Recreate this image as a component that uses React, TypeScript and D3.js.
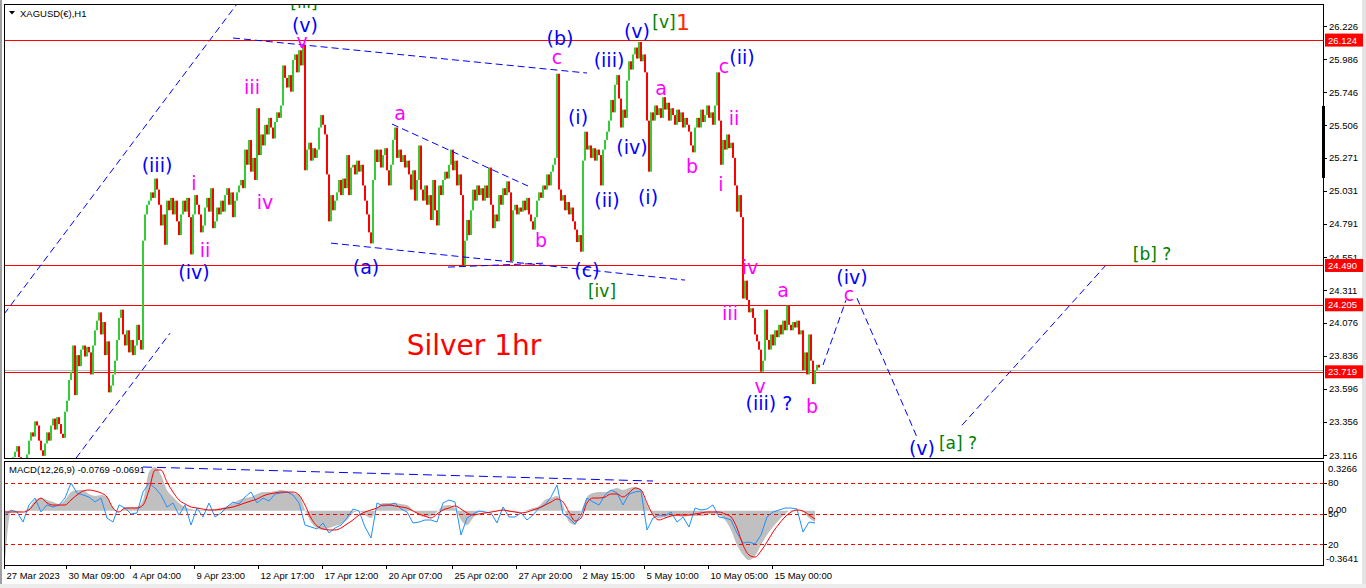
import React from 'react';
import * as d3 from 'd3';

// hourly closes, one entry per 2px bar slot
const closes = [
  23.01, 23.02, 23.04, 23.07, 23.10, 23.14, 23.18, 23.10, 23.04, 23.02,
  23.05, 23.12, 23.22, 23.28, 23.25, 23.36, 23.33, 23.22, 23.15, 23.11,
  23.20, 23.28, 23.22, 23.33, 23.38, 23.30, 23.39, 23.34, 23.27, 23.24,
  23.43, 23.51, 23.66, 23.72, 23.91, 23.55, 23.84, 23.76, 23.88, 23.91,
  23.83, 23.90, 23.86, 23.70, 23.91, 24.02, 24.09, 24.15, 23.99, 24.08,
  23.84, 23.94, 23.57, 23.62, 23.70, 23.80, 23.95, 24.11, 24.17, 23.99,
  23.91, 24.02, 23.86, 23.95, 23.84, 23.91, 24.06, 23.95, 23.88, 24.67,
  24.86, 24.93, 24.96, 25.02, 24.98, 25.12, 25.04, 24.93, 24.78, 24.86,
  24.64, 24.96, 24.89, 24.98, 24.86, 24.96, 24.81, 24.71, 24.86, 24.96,
  24.88, 24.98, 24.84, 24.57, 24.86, 25.00, 24.93, 24.86, 24.73, 24.78,
  24.91, 24.98, 24.88, 25.05, 24.76, 24.81, 24.91, 24.86, 24.96, 24.88,
  25.00, 25.05, 24.93, 25.02, 24.84, 24.96, 25.02, 25.07, 25.11, 25.05,
  25.33, 25.22, 25.40, 25.17, 25.27, 25.11, 25.63, 25.29, 25.44, 25.36,
  25.51, 25.44, 25.56, 25.49, 25.41, 25.53, 25.60, 25.56, 25.65, 25.94,
  25.85, 25.78, 25.87, 25.75, 25.98, 26.02, 25.89, 26.05, 25.94, 26.09,
  25.18, 25.33, 25.38, 25.25, 25.34, 25.27, 25.33, 25.49, 25.58, 25.51,
  25.44, 25.15, 24.81, 25.00, 24.89, 24.96, 25.02, 25.11, 25.00, 25.12,
  25.05, 25.29, 25.00, 25.20, 25.22, 25.15, 25.25, 25.17, 25.22, 25.07,
  24.96, 24.86, 24.73, 24.65, 25.11, 25.33, 25.24, 25.33, 25.20, 25.29,
  25.34, 25.18, 25.07, 25.22, 25.40, 25.49, 25.27, 25.33, 25.24, 25.29,
  25.20, 25.25, 25.15, 25.04, 25.18, 24.96, 25.11, 25.36, 25.04, 24.96,
  25.07, 24.93, 25.00, 24.82, 25.11, 24.89, 24.78, 25.07, 25.00, 25.11,
  25.17, 25.12, 25.22, 25.33, 25.18, 25.25, 25.07, 25.15, 25.00, 24.49,
  24.67, 24.82, 24.71, 24.89, 25.04, 24.96, 25.07, 25.00, 25.05, 24.96,
  25.07, 24.98, 25.20, 24.93, 24.76, 24.86, 24.81, 25.00, 24.93, 25.05,
  25.00, 25.10, 25.02, 24.52, 24.89, 24.93, 24.86, 24.91, 24.88, 24.96,
  24.89, 24.98, 24.86, 24.81, 24.75, 24.84, 24.96, 25.02, 24.98, 25.07,
  25.04, 25.15, 25.07, 25.17, 25.22, 25.27, 25.88, 25.04, 24.96, 25.00,
  24.89, 24.95, 24.86, 24.91, 24.81, 24.75, 24.66, 24.71, 24.59, 25.25,
  25.46, 25.33, 25.36, 25.27, 25.34, 25.25, 25.33, 25.29, 25.07, 25.33,
  25.40, 25.46, 25.54, 25.69, 25.60, 25.80, 25.87, 25.70, 25.49, 25.62,
  25.56, 25.83, 25.97, 25.91, 26.02, 26.07, 25.99, 26.11, 25.97, 26.02,
  25.89, 25.54, 25.17, 25.60, 25.54, 25.65, 25.58, 25.63, 25.56, 25.71,
  25.62, 25.67, 25.54, 25.63, 25.58, 25.51, 25.62, 25.53, 25.60, 25.49,
  25.56, 25.51, 25.46, 25.36, 25.31, 25.49, 25.56, 25.49, 25.62, 25.53,
  25.58, 25.65, 25.56, 25.60, 25.51, 25.65, 25.89, 25.54, 25.22, 25.40,
  25.33, 25.44, 25.34, 25.38, 25.27, 25.07, 24.88, 25.00, 24.84, 24.25,
  24.38, 24.24, 24.15, 24.18, 24.11, 23.99, 23.94, 23.88, 23.72, 23.80,
  24.17, 23.95, 23.88, 23.99, 23.91, 24.02, 23.97, 24.06, 23.99, 24.09,
  24.02, 24.20, 24.06, 24.02, 24.08, 24.04, 24.09, 23.99, 24.02, 23.73,
  23.86, 23.70, 23.99, 23.80, 23.63, 23.73, 23.77, 23.75,
];

// indicator samples, one every 3 bar slots
const macdHist = [
  -0.331, -0.009, -0.009, -0.002, 0.018, 0.072, 0.085, 0.072, 0.058, 0.045,
  0.072, 0.125, 0.139, 0.139, 0.112, 0.099, 0.105, 0.092, 0.018, -0.002,
  0.018, 0.025, 0.025, 0.072, 0.26, 0.293, 0.24, 0.139, 0.092, 0.052,
  0.025, 0.011, 0.005, 0.005, 0.005, 0.011, 0.018, 0.032, 0.052, 0.072,
  0.085, 0.092, 0.112, 0.125, 0.125, 0.132, 0.139, 0.132, 0.119, 0.105,
  0.005, -0.076, -0.116, -0.129, -0.116, -0.102, -0.089, -0.062, -0.015, -0.002,
  -0.029, -0.049, 0.018, 0.052, 0.052, 0.052, 0.045, 0.038, 0.005, -0.029,
  -0.042, -0.036, -0.009, 0.032, 0.038, 0.018, -0.062, -0.096, -0.049, -0.009,
  -0.002, -0.002, -0.002, 0.005, -0.009, -0.009, -0.002, 0.005, 0.018, 0.032,
  0.072, 0.085, 0.099, 0.038, -0.076, -0.096, -0.009, 0.092, 0.119, 0.125,
  0.125, 0.139, 0.152, 0.139, 0.152, 0.159, 0.139, 0.038, -0.029, -0.049,
  -0.042, -0.036, -0.036, -0.042, -0.036, -0.036, -0.036, -0.029, -0.022, -0.029,
  -0.062, -0.129, -0.23, -0.297, -0.331, -0.304, -0.23, -0.163, -0.109, -0.062,
  -0.022, 0.005, 0.005, -0.009, -0.049, -0.076,
];

const macdSignal = [
  -0.009, -0.009, -0.009, -0.009, 0.005, 0.052, 0.085, 0.052, 0.038, 0.038,
  0.038, 0.072, 0.105, 0.132, 0.139, 0.132, 0.119, 0.092, 0.018, -0.009,
  0.018, 0.018, 0.018, 0.038, 0.139, 0.273, 0.273, 0.192, 0.125, 0.072,
  0.045, 0.025, 0.018, 0.011, 0.005, 0.005, 0.011, 0.018, 0.025, 0.038,
  0.052, 0.065, 0.078, 0.099, 0.112, 0.119, 0.125, 0.125, 0.125, 0.105,
  0.038, -0.049, -0.102, -0.122, -0.129, -0.129, -0.116, -0.089, -0.062, -0.029,
  -0.009, 0.005, 0.018, 0.038, 0.038, 0.032, 0.025, 0.018, -0.002, -0.022,
  -0.036, -0.049, -0.022, 0.005, 0.018, 0.032, 0.011, -0.015, -0.029, -0.022,
  -0.015, -0.009, -0.002, 0.005, -0.002, -0.009, -0.015, -0.009, 0.005, 0.018,
  0.038, 0.058, 0.078, 0.058, -0.009, -0.069, -0.049, 0.052, 0.085, 0.085,
  0.092, 0.112, 0.112, 0.092, 0.119, 0.152, 0.139, 0.052, -0.029, -0.062,
  -0.049, -0.036, -0.029, -0.029, -0.029, -0.022, -0.015, -0.009, -0.009, -0.009,
  -0.022, -0.042, -0.116, -0.23, -0.297, -0.311, -0.27, -0.21, -0.143, -0.089,
  -0.042, -0.009, 0.005, -0.002, -0.029, -0.056,
];

const oscValues = [
  48.5, 53.4, 51.5, 41.7, 58.3, 65.0, 51.5, 58.3, 56.3, 58.3,
  65.0, 79.6, 69.9, 68.0, 66.0, 61.2, 65.0, 45.6, 41.7, 58.3,
  55.3, 49.5, 50.5, 70.9, 79.6, 74.8, 68.0, 56.3, 60.2, 48.5,
  58.3, 38.8, 55.3, 46.6, 60.2, 46.6, 50.5, 56.3, 61.2, 59.2,
  66.0, 70.9, 60.2, 65.0, 62.1, 68.9, 69.9, 70.9, 68.0, 60.2,
  38.8, 36.9, 35.0, 40.8, 31.1, 35.9, 38.8, 45.6, 54.4, 52.4,
  36.9, 26.2, 60.2, 57.3, 58.3, 60.2, 54.4, 51.5, 40.8, 41.7,
  43.7, 43.7, 41.7, 60.2, 63.1, 61.2, 29.1, 45.6, 49.5, 52.4,
  51.5, 50.5, 40.8, 56.3, 46.6, 46.6, 50.5, 43.7, 48.5, 55.3,
  58.3, 66.0, 77.7, 49.5, 45.6, 39.8, 48.5, 65.0, 61.2, 58.3,
  68.0, 72.8, 69.9, 58.3, 68.9, 70.9, 71.8, 34.0, 45.6, 48.5,
  47.6, 51.5, 41.7, 46.6, 36.9, 55.3, 53.4, 54.4, 58.3, 46.6,
  45.6, 43.7, 31.1, 21.4, 22.3, 20.4, 29.1, 46.6, 51.5, 53.4,
  55.3, 55.3, 54.4, 32.0, 41.7, 40.8,
];

const priceTicks = [26.226, 25.986, 25.746, 25.506, 25.271, 25.031, 24.791, 24.551, 24.311, 24.076, 23.836, 23.596, 23.356, 23.116];
const levelLines = [26.124, 24.490, 24.205, 23.719];
const lastPrice = 23.733;
const oscLevels = [80, 50, 20];

const timeLabels = ['27 Mar 2023', '30 Mar 09:00', '4 Apr 04:00', '9 Apr 23:00', '12 Apr 17:00', '17 Apr 12:00', '20 Apr 07:00', '25 Apr 02:00', '27 Apr 20:00', '2 May 15:00', '5 May 10:00', '10 May 05:00', '15 May 00:00'];
const timeLabelBars = [0, 31, 63, 95, 127, 159, 191, 224, 256, 288, 320, 352, 384];

// wave count labels: [text, bar slot, price]
const blueLabels: [string, number, number][] = [
  ['(v)', 150, 26.233], ['(iii)', 76, 25.218], ['(iv)', 94.5, 24.442], ['(a)', 180.5, 24.478],
  ['(b)', 277.5, 26.139], ['(c)', 291, 24.457], ['(i)', 286.5, 25.566], ['(ii)', 301, 24.964],
  ['(iii)', 302, 25.979], ['(iv)', 313.5, 25.349], ['(v)', 316, 26.19], ['(i)', 321.5, 24.986],
  ['(ii)', 368.5, 26.001], ['(iii) ?', 382, 23.492], ['(iv)', 423.5, 24.406], ['(v)', 458.5, 23.166],
];
const magentaLabels: [string, number, number][] = [
  ['v', 148.5, 26.117], ['iii', 123.5, 25.784], ['i', 94.5, 25.087], ['iv', 130, 24.95],
  ['ii', 100, 24.602], ['a', 197.5, 25.595], ['b', 268, 24.674], ['c', 276, 26.001],
  ['a', 328, 25.776], ['b', 343.5, 25.211], ['c', 359.5, 25.936], ['ii', 364.5, 25.559],
  ['i', 358, 25.08], ['iv', 372.5, 24.478], ['iii', 362.5, 24.145], ['v', 377.5, 23.615],
  ['a', 389, 24.312], ['b', 403.5, 23.47], ['c', 422, 24.283],
];
const greenLabels: [string, number, number][] = [
  ['[iii]', 149.5, 26.4], ['[v]', 329.5, 26.255], ['[iv]', 298.5, 24.304],
  ['[a] ?', 476.5, 23.202], ['[b] ?', 573.5, 24.573],
];

// dashed trendlines: [bar1, price1, bar2, price2]
const trendLines: [number, number, number, number][] = [
  [-0.5, 24.137, 116, 26.386],
  [35.5, 23.093, 82.5, 23.999],
  [114, 26.139, 291, 25.885],
  [193.5, 25.515, 261.5, 25.066],
  [163, 24.652, 340, 24.384],
  [221.5, 24.478, 270, 24.507],
  [409, 23.768, 420.5, 24.239],
  [426, 24.253, 456, 23.245],
  [478.5, 23.332, 550.5, 24.493],
];
const macdTrend: [number, number, number, number] = [69, 0.293, 324, 0.199];

const UP = '#32cd32';
const DOWN = '#ff0000';
const AXIS_FONT = '"Liberation Sans", Arial, sans-serif';
const WAVE_FONT = '"DejaVu Sans", Verdana, sans-serif';

const App = () => {
  const W = 1366;
  const H = 588;
  const left = 4;
  const right = 1323;
  const mainTop = 4;
  const mainBottom = 458;
  const subTop = 461;
  const subBottom = 565;

  const x = d3.scaleLinear().domain([0, 1]).range([5, 7]);
  const y = d3.scaleLinear().domain([23.116, 26.226]).range([455, 26]);
  const my = d3.scaleLinear().domain([-0.3641, 0.3266]).range([subBottom, subTop + 1]);
  const oy = d3.scaleLinear().domain([0, 100]).range([subBottom, subTop + 1]);

  const histArea = d3.area<number>()
    .x((_, k) => x(k * 3))
    .y0(my(0))
    .y1(d => my(d))
    .curve(d3.curveMonotoneX);
  const signalLine = d3.line<number>()
    .x((_, k) => x(k * 3))
    .y(d => my(d))
    .curve(d3.curveMonotoneX);
  const oscLine = d3.line<number>()
    .x((_, k) => x(k * 3))
    .y(d => oy(d));

  const label = (arr: [string, number, number][], color: string, size: number, prefix: string) =>
    arr.map(([t, b, p], i) => (
      <text key={prefix + i} x={x(b)} y={y(p)} fill={color} fontSize={size} fontFamily={WAVE_FONT}
        textAnchor="middle" dominantBaseline="central">{t}</text>
    ));

  return (
    <svg width={W} height={H} style={{ position: 'absolute', left: 0, top: 0, background: '#fff' }}>
      <defs>
        <clipPath id="mainClip"><rect x={left} y={mainTop} width={right - left} height={mainBottom - mainTop} /></clipPath>
        <clipPath id="subClip"><rect x={left} y={subTop} width={right - left} height={subBottom - subTop} /></clipPath>
      </defs>
      <rect x={0} y={0} width={W} height={H} fill="#fff" />
      <rect x={0} y={0} width={2} height={H} fill="#a0a0a0" />
      <rect x={1362} y={0} width={4} height={H} fill="#e4e4e4" />
      <rect x={0} y={584} width={W} height={4} fill="#ececec" />

      {/* main panel */}
      <g clipPath="url(#mainClip)">
        {levelLines.map((p, i) => (
          <line key={'lv' + i} x1={left} x2={right} y1={Math.round(y(p)) + 0.5} y2={Math.round(y(p)) + 0.5} stroke="#ff0000" strokeWidth={1} />
        ))}
        <line x1={left} x2={right} y1={Math.round(y(lastPrice)) + 0.5} y2={Math.round(y(lastPrice)) + 0.5} stroke="#c0c0c0" />
        {closes.map((c, i) => {
          const o = i === 0 ? c : closes[i - 1];
          const top = y(Math.max(o, c));
          const bot = y(Math.min(o, c));
          const col = c > o ? UP : c < o ? DOWN : '#000';
          return <rect key={'b' + i} x={x(i) - 1} y={top} width={2} height={Math.max(1, bot - top)} fill={col} />;
        })}
        {trendLines.map(([b1, p1, b2, p2], i) => (
          <line key={'tl' + i} x1={x(b1)} y1={y(p1)} x2={x(b2)} y2={y(p2)} stroke="#0000ff" strokeWidth={1} strokeDasharray="7,4" />
        ))}
        {label(blueLabels, '#0000ff', 19, 'bl')}
        {label(magentaLabels, '#ff00ff', 19, 'mg')}
        {label(greenLabels, '#008000', 17, 'gr')}
        <text x={x(339)} y={y(26.248)} fill="#ff2a00" fontSize={22} fontFamily={WAVE_FONT} textAnchor="middle" dominantBaseline="central">1</text>
        <text x={x(234.5)} y={y(23.913)} fill="#ff0000" fontSize={28} fontFamily={WAVE_FONT} textAnchor="middle" dominantBaseline="central">Silver 1hr</text>
      </g>
      <text x={20} y={13} fontSize={9.5} fontFamily={AXIS_FONT} fill="#000" dominantBaseline="central">XAGUSD(€),H1</text>
      <path d="M9,11 L15,11 L12,14.5 Z" fill="#000" />
      <rect x={left + 0.5} y={mainTop + 0.5} width={right - left} height={mainBottom - mainTop} fill="none" stroke="#000" />

      {/* price axis */}
      {priceTicks.map((p, i) => (
        <g key={'pt' + i}>
          <line x1={right} x2={right + 4} y1={Math.round(y(p)) + 0.5} y2={Math.round(y(p)) + 0.5} stroke="#000" />
          <text x={right + 6} y={y(p)} fontSize={9.5} fontFamily={AXIS_FONT} fill="#000" dominantBaseline="central">{p.toFixed(3)}</text>
        </g>
      ))}
      {levelLines.map((p, i) => (
        <g key={'pl' + i}>
          <rect x={right + 2} y={y(p) - 6.5} width={38} height={13} fill="#ff0000" />
          <text x={right + 5} y={y(p)} fontSize={9.5} fontFamily={AXIS_FONT} fill="#fff" dominantBaseline="central">{p.toFixed(3)}</text>
        </g>
      ))}
      <rect x={1322} y={106} width={3} height={72} fill="#000" />

      {/* indicator panel */}
      <g clipPath="url(#subClip)">
        <path d={histArea(macdHist) ?? ''} fill="#c0c0c0" />
        {oscLevels.map((v, i) => (
          <line key={'ol' + i} x1={left} x2={right} y1={Math.round(oy(v)) + 0.5} y2={Math.round(oy(v)) + 0.5} stroke="#ff0000" strokeDasharray="4,3" />
        ))}
        <path d={oscLine(oscValues) ?? ''} fill="none" stroke="#1e90ff" strokeWidth={1} />
        <path d={signalLine(macdSignal) ?? ''} fill="none" stroke="#ff0000" strokeWidth={1} />
        <line x1={x(macdTrend[0])} y1={my(macdTrend[1])} x2={x(macdTrend[2])} y2={my(macdTrend[3])} stroke="#0000ff" strokeDasharray="9,5" />
      </g>
      <text x={9} y={469} fontSize={9.5} fontFamily={AXIS_FONT} fill="#000" dominantBaseline="central">MACD(12,26,9) -0.0769 -0.0691</text>
      <rect x={left + 0.5} y={subTop + 0.5} width={right - left} height={subBottom - subTop} fill="none" stroke="#000" />
      <text x={right + 5} y={my(0.3266) + 6} fontSize={9.5} fontFamily={AXIS_FONT} fill="#000" dominantBaseline="central">0.3266</text>
      <text x={right + 3} y={my(-0.3641) - 7} fontSize={9.5} fontFamily={AXIS_FONT} fill="#000" dominantBaseline="central">-0.3641</text>
      <text x={right + 5} y={my(0) - 1} fontSize={9.5} fontFamily={AXIS_FONT} fill="#000" dominantBaseline="central">0.00</text>
      {oscLevels.map((v, i) => (
        <g key={'olb' + i}>
          <line x1={right} x2={right + 4} y1={Math.round(oy(v)) + 0.5} y2={Math.round(oy(v)) + 0.5} stroke="#000" />
          <text x={right + 5} y={oy(v)} fontSize={9.5} fontFamily={AXIS_FONT} fill="#000" dominantBaseline="central">{v}</text>
        </g>
      ))}

      {/* time axis */}
      {timeLabels.map((t, i) => {
        const tx = Math.round(x(timeLabelBars[i])) - 0.5;
        return (
          <g key={'tx' + i}>
            <line x1={tx} x2={tx} y1={subBottom} y2={subBottom + 4} stroke="#000" />
            <text x={tx + 2} y={575} fontSize={9.5} fontFamily={AXIS_FONT} fill="#000" dominantBaseline="central">{t}</text>
          </g>
        );
      })}
    </svg>
  );
};

export default App;
